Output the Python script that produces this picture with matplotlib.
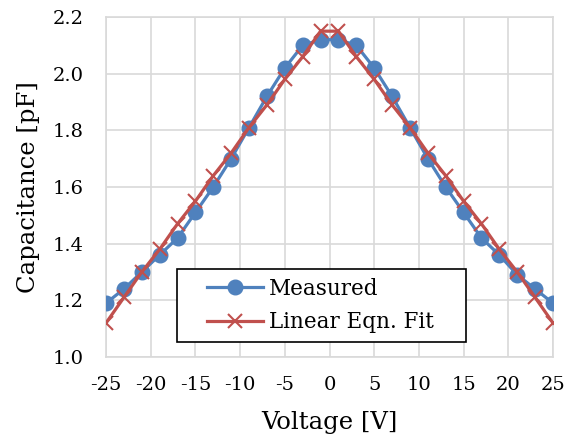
import numpy as np
import matplotlib
matplotlib.use("Agg")
import matplotlib.pyplot as plt
from matplotlib.lines import Line2D
from matplotlib.legend_handler import HandlerLine2D

plt.rcParams['font.family'] = ['DejaVu Serif']
plt.rcParams['axes.unicode_minus'] = False

# bias voltages (V)
voltage = [-25, -23, -21, -19, -17, -15, -13, -11, -9, -7, -5, -3, -1,
           1, 3, 5, 7, 9, 11, 13, 15, 17, 19, 21, 23, 25]
# measured capacitance (pF)
measured = [1.19, 1.24, 1.30, 1.36, 1.42, 1.51, 1.60, 1.70, 1.81, 1.92, 2.02, 2.10, 2.12,
            2.12, 2.10, 2.02, 1.92, 1.81, 1.70, 1.60, 1.51, 1.42, 1.36, 1.29, 1.24, 1.19]
# linear equation fit (pF)
fit = [1.12, 1.21, 1.30, 1.38, 1.47, 1.55, 1.64, 1.72, 1.81, 1.89, 1.98, 2.06, 2.15,
       2.15, 2.06, 1.98, 1.89, 1.81, 1.72, 1.64, 1.55, 1.47, 1.38, 1.30, 1.21, 1.12]

xticks = [-25, -20, -15, -10, -5, 0, 5, 10, 15, 20, 25]
yticks = [1.0, 1.2, 1.4, 1.6, 1.8, 2.0, 2.2]

fig = plt.figure(figsize=(5.74, 4.41), dpi=100)
ax = fig.add_axes([106/574, 1-357/441, 447/574, 340/441])

ax.plot(voltage, measured, color='#4F81BD', lw=2.3, marker='o', ms=10.5, label='Measured', zorder=3)
ax.plot(voltage, fit, color='#C0504D', lw=2.3, marker='x', ms=10, mew=1.5, label='Linear Eqn. Fit', zorder=4)

ax.set_xlim(-25, 25)
ax.set_ylim(1.0, 2.2)
ax.set_xticks(xticks)
ax.set_yticks(yticks)
ax.set_yticklabels(['%.1f' % v for v in yticks])
ax.tick_params(length=0, labelsize=14)
ax.tick_params(axis='x', pad=14)
ax.tick_params(axis='y', pad=16)
ax.grid(True, color='#d9d9d9', lw=1.2)
ax.set_axisbelow(True)
for s in ax.spines.values():
    s.set_color('#d9d9d9')
    s.set_linewidth(1.2)

ax.set_xlabel('Voltage [V]', fontsize=17.5, labelpad=12)
ax.set_ylabel('Capacitance [pF]', fontsize=17.5, labelpad=9)

fs = 15.5
leg = ax.legend(loc='lower left', bbox_to_anchor=(0.159, 0.044, 0.646, 0.212), mode='expand',
                borderaxespad=0, fontsize=fs, fancybox=False, framealpha=1, edgecolor='black',
                handlelength=3.6, handletextpad=0.25, borderpad=0.4, labelspacing=0.55,
                handler_map={Line2D: HandlerLine2D(xpad=1.0)})
leg.get_frame().set_linewidth(1.2)

fig.savefig('out.png', dpi=100)
